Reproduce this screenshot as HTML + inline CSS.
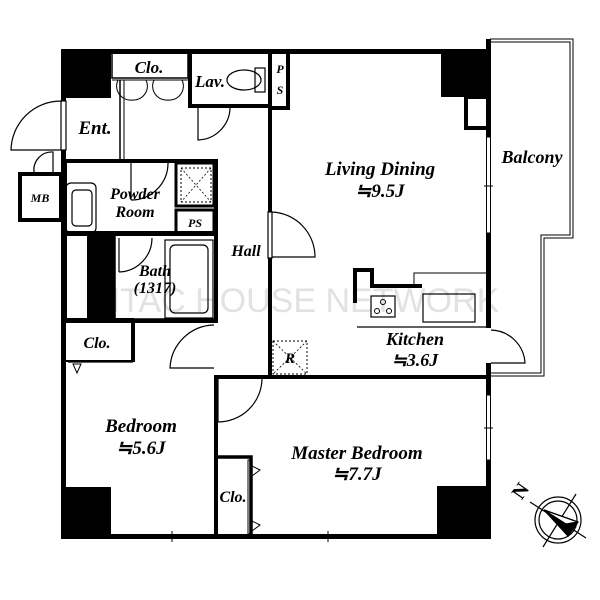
<!DOCTYPE html>
<html><head><meta charset="utf-8"><style>
html,body{margin:0;padding:0;background:#fff;}
svg{display:block;}
text{font-family:"Liberation Serif",serif;font-weight:bold;font-style:italic;fill:#000;}
</style></head><body>
<svg width="600" height="600" viewBox="0 0 600 600" xmlns="http://www.w3.org/2000/svg">
<rect width="600" height="600" fill="#fff"/>
<text x="305" y="312" text-anchor="middle" font-size="34" style="font-style:normal;font-weight:normal;font-family:'Liberation Sans',sans-serif;fill:#e2e2e2">ITAC HOUSE NETWORK</text>

<g fill="none" stroke="#000" stroke-width="1">
<polyline points="490,39 573,39 573,238 544,238 544,376 490,376"/>
<polyline points="490,42 570,42 570,235 541,235 541,373 490,373"/>
</g>

<g fill="#000">
<rect x="61" y="49" width="430" height="5"/>
<rect x="61" y="49" width="5" height="52"/>
<rect x="61" y="150" width="5" height="389"/>
<rect x="61" y="534" width="430" height="5"/>
<rect x="486" y="39" width="5" height="98"/>
<rect x="486" y="233" width="5" height="95"/>
<rect x="486" y="363" width="5" height="32"/>
<rect x="486" y="460" width="5" height="79"/>
<rect x="61" y="49" width="50" height="49"/>
<rect x="441" y="49" width="50" height="48"/>
<rect x="61" y="487" width="50" height="52"/>
<rect x="437" y="486" width="54" height="53"/>
<rect x="87" y="235" width="28" height="84"/>
</g>
<g fill="none" stroke="#000" stroke-width="1">
<rect x="486.5" y="137" width="4" height="96"/>
<rect x="486.5" y="395" width="4" height="65"/>
<line x1="484" y1="186" x2="493" y2="186"/>
<line x1="484" y1="428" x2="493" y2="428"/>
<rect x="140" y="534.5" width="65" height="4"/>
<rect x="280" y="534.5" width="95" height="4"/>
<line x1="172" y1="531" x2="172" y2="542"/>
<line x1="328" y1="531" x2="328" y2="542"/>
</g>
<rect x="466" y="97" width="22" height="31" fill="none" stroke="#000" stroke-width="4"/>

<g fill="none" stroke="#000">
<rect x="112" y="52" width="76" height="26" stroke-width="1.5"/>
<line x1="112" y1="80" x2="188" y2="80" stroke-width="1"/>
<path d="M118,80 A14,14 0 0 0 132,100 M146,80 A14,14 0 0 1 132,100" stroke-width="1"/>
<path d="M154,80 A14,14 0 0 0 168,100 M182,80 A14,14 0 0 1 168,100" stroke-width="1"/>
<line x1="120" y1="80" x2="120" y2="160" stroke-width="1.5"/>
<line x1="124" y1="80" x2="124" y2="160" stroke-width="1"/>
</g>
<rect x="190" y="51" width="80" height="55" fill="none" stroke="#000" stroke-width="4"/>
<rect x="270" y="51" width="18" height="57" fill="none" stroke="#000" stroke-width="4"/>
<g fill="none" stroke="#000" stroke-width="1.2">
<ellipse cx="244" cy="80" rx="17" ry="10"/>
<rect x="255" y="68" width="10" height="24"/>
<path d="M198,106 L198,140 A33,33 0 0 0 230,106"/>
</g>
<g fill="none" stroke="#000" stroke-width="1.2">
<rect x="61" y="101" width="5" height="49"/>
<path d="M61,150 L11,150 A50,50 0 0 1 61,101"/>
<path d="M53,172 L53,152 A18,18 0 0 0 34,172"/>
</g>
<rect x="20" y="174" width="41" height="46" fill="none" stroke="#000" stroke-width="4"/>
<g fill="none" stroke="#000">
<rect x="65" y="161" width="151" height="73" stroke-width="4"/>
<rect x="66" y="183" width="30" height="50" stroke-width="1.2" rx="5"/>
<rect x="72" y="190" width="20" height="36" stroke-width="1.2" rx="4"/>
<line x1="131" y1="163" x2="131" y2="200" stroke-width="1.2"/>
<path d="M168,163 A37,37 0 0 1 131,200" stroke-width="1.2"/>
<rect x="176" y="163" width="38" height="43" stroke-width="3"/>
<rect x="181" y="168" width="30" height="34" stroke-width="1" stroke-dasharray="2,2"/>
<path d="M181,168 L211,202 M211,168 L181,202" stroke-width="0.8" stroke-dasharray="2,2"/>
<rect x="176" y="210" width="38" height="23" stroke-width="3"/>
</g>
<g fill="none" stroke="#000">
<rect x="65" y="233" width="151" height="88" stroke-width="4"/>
<rect x="115" y="235" width="100" height="84" stroke-width="1.5"/>
<rect x="165" y="240" width="48" height="78" stroke-width="1.2"/>
<rect x="170" y="245" width="38" height="68" rx="5" stroke-width="1.2"/>
<line x1="119" y1="238" x2="119" y2="272" stroke-width="1.2"/>
<path d="M152,238 A34,34 0 0 1 119,272" stroke-width="1.2"/>
</g>
<g fill="none" stroke="#000">
<rect x="65" y="319" width="68" height="42" stroke-width="2"/>
<line x1="133" y1="321" x2="133" y2="362" stroke-width="4"/>
<line x1="68" y1="362" x2="133" y2="362" stroke-width="1.2"/>
<path d="M73,364 L81,364 L77,373 Z" stroke-width="1"/>
<path d="M214,325 A45,45 0 0 0 170,368 L214,368" stroke-width="1.2"/>
</g>
<rect x="268" y="51" width="4" height="161" fill="#000"/>
<rect x="268" y="258" width="4" height="121" fill="#000"/>
<g fill="none" stroke="#000" stroke-width="1.2">
<rect x="268" y="212" width="4" height="46"/>
<path d="M272,212 A45,45 0 0 1 315,257 L272,257"/>
</g>
<g fill="none" stroke="#000">
<rect x="273" y="341" width="34" height="33" stroke-width="1" stroke-dasharray="2,2"/>
<path d="M273,341 L307,374 M307,341 L273,374" stroke-width="0.8" stroke-dasharray="2,2"/>
</g>
<g fill="none" stroke="#000">
<path d="M355,303 L355,270 L372,270 L372,286 L422,286" stroke-width="4"/>
<path d="M414,286 L414,273 L488,273" stroke-width="1"/>
<line x1="357" y1="327" x2="488" y2="327" stroke-width="1.2"/>
<rect x="371" y="296" width="24" height="21" stroke-width="1.2"/>
<circle cx="383" cy="302" r="2.5" stroke-width="1"/>
<circle cx="377" cy="311" r="2.5" stroke-width="1"/>
<circle cx="389" cy="311" r="2.5" stroke-width="1"/>
<rect x="423" y="294" width="52" height="28" stroke-width="1.2"/>
<path d="M491,330 A35,35 0 0 1 525,363 L491,363" stroke-width="1.2"/>
</g>
<rect x="214" y="375" width="277" height="4" fill="#000"/>
<rect x="214" y="375" width="4" height="164" fill="#000"/>
<g fill="none" stroke="#000" stroke-width="1.2">
<line x1="218" y1="379" x2="218" y2="422"/>
<path d="M262,379 A44,44 0 0 1 218,422"/>
<line x1="218" y1="377" x2="262" y2="377"/>
</g>
<g fill="none" stroke="#000">
<path d="M216,457 L251,457 L251,535" stroke-width="3.5"/>
<rect x="248" y="460" width="4" height="74" stroke-width="1"/>
<path d="M252,466 L260,470 L252,476 M252,521 L260,525 L252,531" stroke-width="1"/>
</g>

<g fill="none" stroke="#000" stroke-width="1.2">
<circle cx="558" cy="520" r="23"/>
<circle cx="558" cy="520" r="19"/>
<line x1="530" y1="502" x2="586" y2="538"/>
<line x1="543" y1="547" x2="576" y2="494"/>
<path d="M544,510 L578,522 L568,536 Z" fill="#000"/>
<path d="M544,510 L578,522 L566,524 Z" fill="#fff"/>
</g>
<text x="513" y="500" font-size="20" transform="rotate(-55 518 492)" style="font-style:normal">N</text>

<g>
<text x="149" y="73" text-anchor="middle" font-size="17">Clo.</text>
<text x="210" y="87" text-anchor="middle" font-size="17">Lav.</text>
<text x="280" y="73" text-anchor="middle" font-size="12">P</text>
<text x="280" y="94" text-anchor="middle" font-size="12">S</text>
<text x="95" y="134" text-anchor="middle" font-size="19">Ent.</text>
<text x="40" y="202" text-anchor="middle" font-size="12">MB</text>
<text x="135" y="199" text-anchor="middle" font-size="16">Powder</text>
<text x="135" y="217" text-anchor="middle" font-size="16">Room</text>
<text x="195" y="227" text-anchor="middle" font-size="12">PS</text>
<text x="155" y="276" text-anchor="middle" font-size="16">Bath</text>
<text x="155" y="293" text-anchor="middle" font-size="16">(1317)</text>
<text x="246" y="256" text-anchor="middle" font-size="16">Hall</text>
<text x="97" y="348" text-anchor="middle" font-size="16">Clo.</text>
<text x="380" y="175" text-anchor="middle" font-size="19">Living Dining</text>
<text x="380" y="197" text-anchor="middle" font-size="19">≒9.5J</text>
<text x="532" y="163" text-anchor="middle" font-size="18">Balcony</text>
<text x="415" y="345" text-anchor="middle" font-size="18">Kitchen</text>
<text x="415" y="366" text-anchor="middle" font-size="18">≒3.6J</text>
<text x="290" y="363" text-anchor="middle" font-size="15">R</text>
<text x="141" y="432" text-anchor="middle" font-size="19">Bedroom</text>
<text x="141" y="454" text-anchor="middle" font-size="19">≒5.6J</text>
<text x="357" y="459" text-anchor="middle" font-size="19">Master Bedroom</text>
<text x="357" y="480" text-anchor="middle" font-size="19">≒7.7J</text>
<text x="233" y="502" text-anchor="middle" font-size="16">Clo.</text>
</g>
</svg>
</body></html>
